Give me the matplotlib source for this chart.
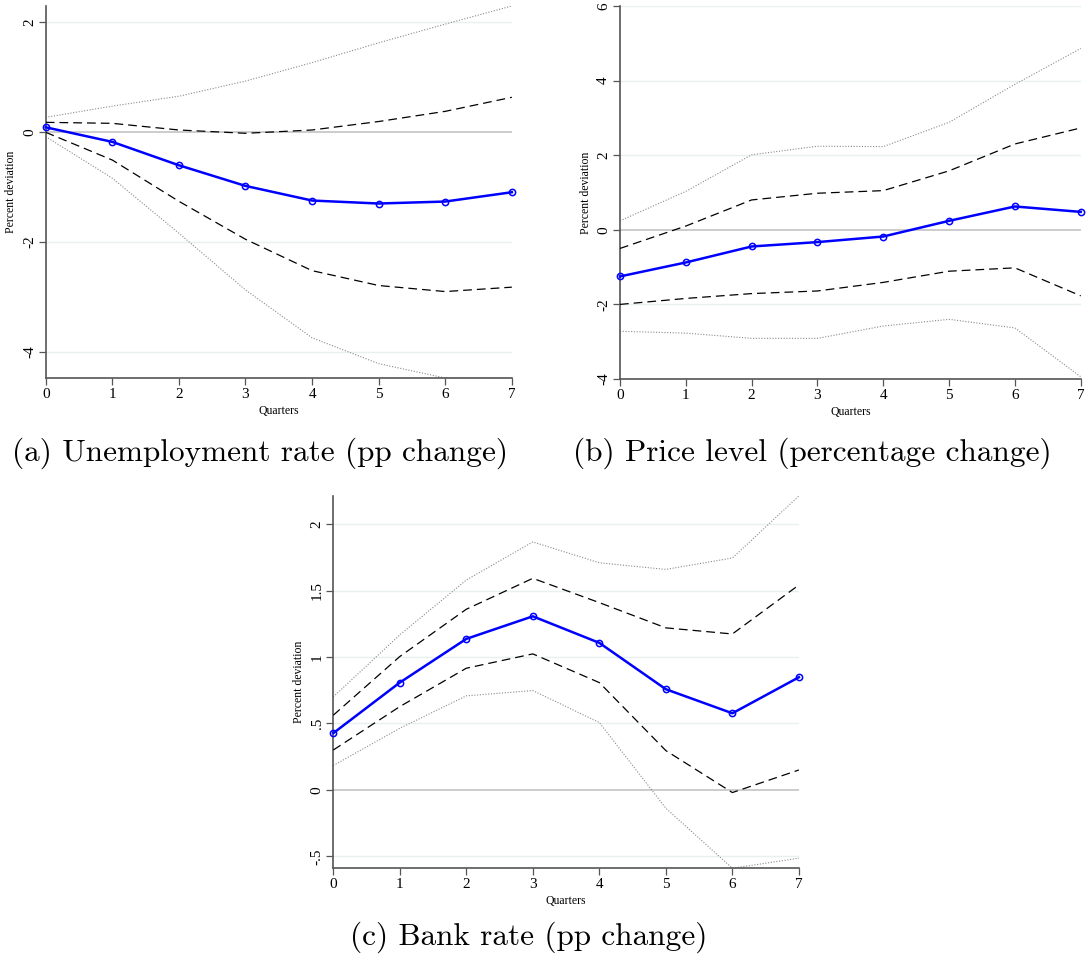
import numpy as np
import matplotlib
matplotlib.use("Agg")
import matplotlib.pyplot as plt

quarters = [0, 1, 2, 3, 4, 5, 6, 7]

# (a) unemployment rate
unemp_irf = [0.085, -0.18, -0.605, -0.98, -1.246, -1.30, -1.264, -1.095]
unemp_hi68 = [0.175, 0.157, 0.036, -0.024, 0.036, 0.19, 0.375, 0.63]
unemp_lo68 = [-0.006, -0.51, -1.26, -1.95, -2.52, -2.79, -2.90, -2.82]
unemp_hi95 = [0.266, 0.47, 0.65, 0.925, 1.26, 1.62, 1.96, 2.29]
unemp_lo95 = [-0.085, -0.84, -1.84, -2.87, -3.74, -4.21, -4.47, -4.47]

# (b) price level
price_irf = [-1.25, -0.876, -0.447, -0.33, -0.18, 0.24, 0.625, 0.48]
price_hi68 = [-0.50, 0.10, 0.80, 0.98, 1.05, 1.58, 2.30, 2.73]
price_lo68 = [-2.0, -1.84, -1.71, -1.64, -1.41, -1.11, -1.02, -1.77]
price_hi95 = [0.24, 1.03, 2.01, 2.24, 2.23, 2.88, 3.90, 4.86]
price_lo95 = [-2.72, -2.77, -2.91, -2.91, -2.58, -2.40, -2.63, -3.94]

# (c) bank rate
bank_irf = [0.427, 0.808, 1.137, 1.307, 1.107, 0.758, 0.577, 0.848]
bank_hi68 = [0.562, 1.004, 1.36, 1.593, 1.41, 1.22, 1.174, 1.543]
bank_lo68 = [0.30, 0.627, 0.916, 1.024, 0.808, 0.296, -0.02, 0.15]
bank_hi95 = [0.70, 1.167, 1.58, 1.867, 1.71, 1.66, 1.746, 2.213]
bank_lo95 = [0.183, 0.464, 0.708, 0.748, 0.507, -0.138, -0.59, -0.514]

captions = ["(a) Unemployment rate (pp change)",
            "(b) Price level (percentage change)",
            "(c) Bank rate (pp change)"]

serif = "Liberation Serif"

fig = plt.figure(figsize=(10.89, 9.61), dpi=100)


def irf_panel(rect, irf, hi68, lo68, hi95, lo95, yticks, ylabels, ylim):
    ax = fig.add_axes(rect)
    for t in yticks:
        if t == 0:
            ax.axhline(0, color="#c8c8c8", lw=1.3, zorder=1)
        else:
            ax.axhline(t, color="#e8f0f2", lw=1.0, zorder=0)
    ax.plot(quarters, hi95, color="#8a8a8a", ls=(0, (1, 1.5)), lw=0.8, zorder=2)
    ax.plot(quarters, lo95, color="#8a8a8a", ls=(0, (1, 1.5)), lw=0.8, zorder=2)
    ax.plot(quarters, hi68, color="black", ls=(0, (7, 4)), lw=0.9, zorder=3)
    ax.plot(quarters, lo68, color="black", ls=(0, (7, 4)), lw=0.9, zorder=3)
    ax.plot(quarters, irf, color="#0000ff", lw=1.8, marker="o", ms=4.5,
            mfc="none", mec="#0000ff", mew=1.1, zorder=4, clip_on=False)
    ax.set_xlim(0, 7)
    ax.set_ylim(*ylim)
    ax.set_xticks(quarters)
    ax.set_xticklabels([str(q) for q in quarters], fontfamily=serif, fontsize=11)
    ax.set_yticks(yticks)
    ax.set_yticklabels(ylabels, fontfamily=serif, fontsize=11, rotation=90,
                       va="center")
    ax.tick_params(direction="out", length=5, width=0.9, color="#555555", pad=2)
    for s in ["top", "right"]:
        ax.spines[s].set_visible(False)
    for s in ["left", "bottom"]:
        ax.spines[s].set_color("#555555")
        ax.spines[s].set_linewidth(1.2)
    ax.set_xlabel("Quarters", fontfamily=serif, fontsize=8.5, labelpad=3)
    ax.set_ylabel("Percent deviation", fontfamily=serif, fontsize=8.5, labelpad=4)
    return ax


irf_panel([0.042, 0.6067, 0.428, 0.3871], unemp_irf, unemp_hi68, unemp_lo68,
          unemp_hi95, unemp_lo95, [-4, -2, 0, 2], ["-4", "-2", "0", "2"],
          (-4.47, 2.29))
irf_panel([0.5693, 0.6056, 0.4231, 0.3882], price_irf, price_hi68, price_lo68,
          price_hi95, price_lo95, [-4, -2, 0, 2, 4, 6],
          ["-4", "-2", "0", "2", "4", "6"], (-4, 6))
irf_panel([0.306, 0.0965, 0.4276, 0.3874], bank_irf, bank_hi68, bank_lo68,
          bank_hi95, bank_lo95, [-0.5, 0, 0.5, 1, 1.5, 2],
          ["-.5", "0", ".5", "1", "1.5", "2"], (-0.59, 2.213))

fig.text(260 / 1089, 1 - 453 / 961, captions[0], family="cmr10", fontsize=22.5,
         ha="center", va="center")
fig.text(812 / 1089, 1 - 453 / 961, captions[1], family="cmr10", fontsize=22.5,
         ha="center", va="center")
fig.text(529 / 1089, 1 - 937 / 961, captions[2], family="cmr10", fontsize=22.5,
         ha="center", va="center")

fig.savefig("out.png", dpi=100)
